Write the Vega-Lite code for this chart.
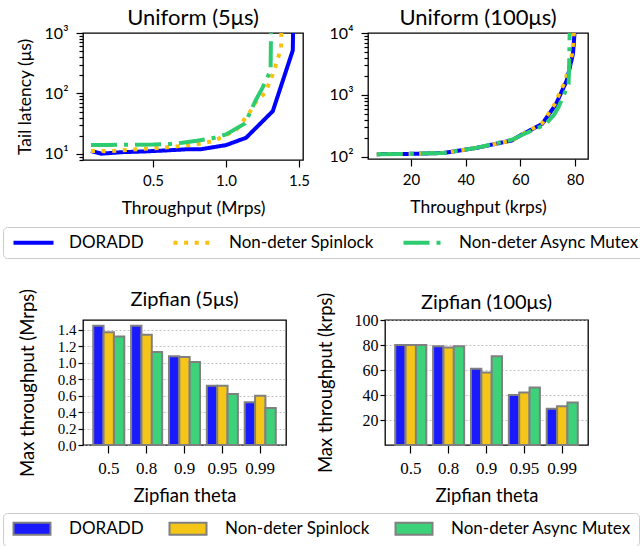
{
  "$schema": "https://vega.github.io/schema/vega-lite/v6.json",
  "padding": {"left": 2, "top": 6, "right": 0, "bottom": 0},
  "bounds": "flush",
  "spacing": 287,
  "datasets": {
    "u5": [
      {"sys": "DORADD", "x": 0.075, "y": 11.2}, {"sys": "DORADD", "x": 0.145, "y": 10.1}, {"sys": "DORADD", "x": 0.29, "y": 10.7},
      {"sys": "DORADD", "x": 0.44, "y": 11.0}, {"sys": "DORADD", "x": 0.58, "y": 11.4}, {"sys": "DORADD", "x": 0.72, "y": 11.9},
      {"sys": "DORADD", "x": 0.83, "y": 12.0}, {"sys": "DORADD", "x": 1.0, "y": 14.0}, {"sys": "DORADD", "x": 1.137, "y": 18.5},
      {"sys": "DORADD", "x": 1.32, "y": 51}, {"sys": "DORADD", "x": 1.457, "y": 516}, {"sys": "DORADD", "x": 1.462, "y": 3000},
      {"sys": "Non-deter Spinlock", "x": 0.075, "y": 11.2}, {"sys": "Non-deter Spinlock", "x": 0.2, "y": 11.1}, {"sys": "Non-deter Spinlock", "x": 0.35, "y": 11.8},
      {"sys": "Non-deter Spinlock", "x": 0.5, "y": 12.4}, {"sys": "Non-deter Spinlock", "x": 0.65, "y": 13.2}, {"sys": "Non-deter Spinlock", "x": 0.8, "y": 14.5},
      {"sys": "Non-deter Spinlock", "x": 0.92, "y": 16.5}, {"sys": "Non-deter Spinlock", "x": 1.07, "y": 25}, {"sys": "Non-deter Spinlock", "x": 1.16, "y": 48},
      {"sys": "Non-deter Spinlock", "x": 1.2, "y": 70}, {"sys": "Non-deter Spinlock", "x": 1.27, "y": 104}, {"sys": "Non-deter Spinlock", "x": 1.33, "y": 240},
      {"sys": "Non-deter Spinlock", "x": 1.355, "y": 380}, {"sys": "Non-deter Spinlock", "x": 1.377, "y": 570}, {"sys": "Non-deter Spinlock", "x": 1.38, "y": 3000},
      {"sys": "Non-deter Async Mutex", "x": 0.075, "y": 14.1}, {"sys": "Non-deter Async Mutex", "x": 0.2, "y": 14.1}, {"sys": "Non-deter Async Mutex", "x": 0.35, "y": 14.2},
      {"sys": "Non-deter Async Mutex", "x": 0.5, "y": 14.3}, {"sys": "Non-deter Async Mutex", "x": 0.62, "y": 14.6}, {"sys": "Non-deter Async Mutex", "x": 0.7, "y": 15.3},
      {"sys": "Non-deter Async Mutex", "x": 0.8, "y": 16.5}, {"sys": "Non-deter Async Mutex", "x": 0.92, "y": 18.5}, {"sys": "Non-deter Async Mutex", "x": 1.0, "y": 21},
      {"sys": "Non-deter Async Mutex", "x": 1.13, "y": 32}, {"sys": "Non-deter Async Mutex", "x": 1.2, "y": 75}, {"sys": "Non-deter Async Mutex", "x": 1.25, "y": 125},
      {"sys": "Non-deter Async Mutex", "x": 1.305, "y": 240}, {"sys": "Non-deter Async Mutex", "x": 1.31, "y": 3000}
    ],
    "u100": [
      {"sys": "DORADD", "x": 7.5, "y": 111}, {"sys": "DORADD", "x": 19, "y": 112}, {"sys": "DORADD", "x": 32, "y": 116},
      {"sys": "DORADD", "x": 44, "y": 140}, {"sys": "DORADD", "x": 57, "y": 185}, {"sys": "DORADD", "x": 61, "y": 235},
      {"sys": "DORADD", "x": 68, "y": 340}, {"sys": "DORADD", "x": 73, "y": 700}, {"sys": "DORADD", "x": 77, "y": 1700},
      {"sys": "DORADD", "x": 79.3, "y": 4600}, {"sys": "DORADD", "x": 80, "y": 12000},
      {"sys": "Non-deter Spinlock", "x": 7.5, "y": 111}, {"sys": "Non-deter Spinlock", "x": 19, "y": 112}, {"sys": "Non-deter Spinlock", "x": 32, "y": 116},
      {"sys": "Non-deter Spinlock", "x": 44, "y": 140}, {"sys": "Non-deter Spinlock", "x": 57, "y": 185}, {"sys": "Non-deter Spinlock", "x": 61, "y": 235},
      {"sys": "Non-deter Spinlock", "x": 68, "y": 350}, {"sys": "Non-deter Spinlock", "x": 72.5, "y": 700}, {"sys": "Non-deter Spinlock", "x": 76.5, "y": 1700},
      {"sys": "Non-deter Spinlock", "x": 79, "y": 4600}, {"sys": "Non-deter Spinlock", "x": 79.8, "y": 12000},
      {"sys": "Non-deter Async Mutex", "x": 7.5, "y": 111}, {"sys": "Non-deter Async Mutex", "x": 19, "y": 112}, {"sys": "Non-deter Async Mutex", "x": 32, "y": 116},
      {"sys": "Non-deter Async Mutex", "x": 44, "y": 140}, {"sys": "Non-deter Async Mutex", "x": 57, "y": 190}, {"sys": "Non-deter Async Mutex", "x": 60, "y": 220},
      {"sys": "Non-deter Async Mutex", "x": 69, "y": 330}, {"sys": "Non-deter Async Mutex", "x": 72.4, "y": 480}, {"sys": "Non-deter Async Mutex", "x": 74, "y": 640},
      {"sys": "Non-deter Async Mutex", "x": 77.7, "y": 1500}, {"sys": "Non-deter Async Mutex", "x": 77.9, "y": 3000}, {"sys": "Non-deter Async Mutex", "x": 78.1, "y": 12000}
    ],
    "b5": [
      {"theta": "0.5", "sys": "DORADD", "v": 1.45}, {"theta": "0.5", "sys": "Non-deter Spinlock", "v": 1.37}, {"theta": "0.5", "sys": "Non-deter Async Mutex", "v": 1.32},
      {"theta": "0.8", "sys": "DORADD", "v": 1.45}, {"theta": "0.8", "sys": "Non-deter Spinlock", "v": 1.34}, {"theta": "0.8", "sys": "Non-deter Async Mutex", "v": 1.13},
      {"theta": "0.9", "sys": "DORADD", "v": 1.08}, {"theta": "0.9", "sys": "Non-deter Spinlock", "v": 1.07}, {"theta": "0.9", "sys": "Non-deter Async Mutex", "v": 1.01},
      {"theta": "0.95", "sys": "DORADD", "v": 0.72}, {"theta": "0.95", "sys": "Non-deter Spinlock", "v": 0.72}, {"theta": "0.95", "sys": "Non-deter Async Mutex", "v": 0.62},
      {"theta": "0.99", "sys": "DORADD", "v": 0.52}, {"theta": "0.99", "sys": "Non-deter Spinlock", "v": 0.60}, {"theta": "0.99", "sys": "Non-deter Async Mutex", "v": 0.45}
    ],
    "b100": [
      {"theta": "0.5", "sys": "DORADD", "v": 80}, {"theta": "0.5", "sys": "Non-deter Spinlock", "v": 80}, {"theta": "0.5", "sys": "Non-deter Async Mutex", "v": 80},
      {"theta": "0.8", "sys": "DORADD", "v": 79}, {"theta": "0.8", "sys": "Non-deter Spinlock", "v": 78}, {"theta": "0.8", "sys": "Non-deter Async Mutex", "v": 79},
      {"theta": "0.9", "sys": "DORADD", "v": 61}, {"theta": "0.9", "sys": "Non-deter Spinlock", "v": 58}, {"theta": "0.9", "sys": "Non-deter Async Mutex", "v": 71},
      {"theta": "0.95", "sys": "DORADD", "v": 40}, {"theta": "0.95", "sys": "Non-deter Spinlock", "v": 42}, {"theta": "0.95", "sys": "Non-deter Async Mutex", "v": 46},
      {"theta": "0.99", "sys": "DORADD", "v": 29}, {"theta": "0.99", "sys": "Non-deter Spinlock", "v": 31}, {"theta": "0.99", "sys": "Non-deter Async Mutex", "v": 34}
    ]
  },
  "vconcat": [
    {
      "hconcat": [
        {
          "width": 220, "height": 127,
          "title": {"text": "Uniform (5μs)", "fontSize": 22, "offset": -5, "frame": "group"},
          "data": {"name": "u5"},
          "layer": [
            {
              "mark": {"type": "line", "strokeWidth": 4, "clip": true},
              "encoding": {
                "x": {"field": "x", "type": "quantitative", "scale": {"domain": [0.02, 1.527], "nice": false, "zero": false}, "axis": {"values": [0.5, 1.0, 1.5], "format": ".1f", "title": "Throughput (Mrps)", "tickSize": 7, "labelPadding": 6, "titlePadding": 11}},
                "y": {"field": "y", "type": "quantitative", "scale": {"type": "log", "domain": [7.94, 1000], "nice": false}, "axis": {"values": [10, 100, 1000], "labelExpr": "'10' + (datum.value == 10 ? '¹' : datum.value == 100 ? '²' : datum.value == 1000 ? '³' : '⁴')", "title": "Tail latency (μs)", "tickSize": 7, "labelPadding": 8, "labelFontSize": 16, "titlePadding": 10}},
                "stroke": {"field": "sys", "type": "nominal", "scale": {"domain": ["DORADD", "Non-deter Spinlock", "Non-deter Async Mutex"], "range": ["#0000ff", "#f9c00c", "#2ecc71"]}, "legend": {"orient": "none", "legendX": -80, "legendY": 194, "direction": "horizontal", "columns": 3, "title": null, "symbolType": "M-1,0H7", "symbolSize": 100, "symbolStrokeWidth": 4, "labelFontSize": 17, "labelOffset": 42, "columnPadding": 21, "strokeColor": "#cccccc", "cornerRadius": 4, "padding": 7, "labelLimit": 400}},
                "strokeDash": {"field": "sys", "type": "nominal", "scale": {"domain": ["DORADD", "Non-deter Spinlock", "Non-deter Async Mutex"], "range": [[1, 0], [4, 6.6], [26, 7, 4, 7]]}, "legend": {"orient": "none", "legendX": -80, "legendY": 194, "direction": "horizontal", "columns": 3, "title": null, "symbolType": "M-1,0H7", "symbolSize": 100, "symbolStrokeWidth": 4, "labelFontSize": 17, "labelOffset": 42, "columnPadding": 21, "strokeColor": "#cccccc", "cornerRadius": 4, "padding": 7, "labelLimit": 400}}
              }
            },
            {
              "mark": {"type": "point", "opacity": 0, "clip": true},
              "encoding": {
                "x": {"field": "x", "type": "quantitative"},
                "y": {"field": "y", "type": "quantitative", "axis": {"orient": "left", "values": [8, 9, 20, 30, 40, 50, 60, 70, 80, 90, 200, 300, 400, 500, 600, 700, 800, 900], "labels": false, "tickSize": 4, "title": null, "domain": false, "grid": false}}
              }
            }
          ],
          "resolve": {"axis": {"y": "independent"}}
        },
        {
          "width": 220, "height": 126,
          "title": {"text": "Uniform (100μs)", "fontSize": 22, "offset": -5, "frame": "group"},
          "data": {"name": "u100"},
          "layer": [
            {
              "mark": {"type": "line", "strokeWidth": 4, "clip": true},
              "encoding": {
                "x": {"field": "x", "type": "quantitative", "scale": {"domain": [4.28, 84.8], "nice": false, "zero": false}, "axis": {"values": [20, 40, 60, 80], "title": "Throughput (krps)", "tickSize": 7, "labelPadding": 6, "titlePadding": 11}},
                "y": {"field": "y", "type": "quantitative", "scale": {"type": "log", "domain": [92.7, 10000], "nice": false}, "axis": {"values": [100, 1000, 10000], "labelExpr": "'10' + (datum.value == 10 ? '¹' : datum.value == 100 ? '²' : datum.value == 1000 ? '³' : '⁴')", "title": null, "tickSize": 7, "labelPadding": 8, "labelFontSize": 16}},
                "stroke": {"field": "sys", "type": "nominal", "scale": {"domain": ["DORADD", "Non-deter Spinlock", "Non-deter Async Mutex"], "range": ["#0000ff", "#f9c00c", "#2ecc71"]}, "legend": {"orient": "none", "legendX": -80, "legendY": 194, "direction": "horizontal", "columns": 3, "title": null, "symbolType": "M-1,0H7", "symbolSize": 100, "symbolStrokeWidth": 4, "labelFontSize": 17, "labelOffset": 42, "columnPadding": 21, "strokeColor": "#cccccc", "cornerRadius": 4, "padding": 7, "labelLimit": 400}},
                "strokeDash": {"field": "sys", "type": "nominal", "scale": {"domain": ["DORADD", "Non-deter Spinlock", "Non-deter Async Mutex"], "range": [[1, 0], [4, 6.6], [26, 7, 4, 7]]}, "legend": {"orient": "none", "legendX": -80, "legendY": 194, "direction": "horizontal", "columns": 3, "title": null, "symbolType": "M-1,0H7", "symbolSize": 100, "symbolStrokeWidth": 4, "labelFontSize": 17, "labelOffset": 42, "columnPadding": 21, "strokeColor": "#cccccc", "cornerRadius": 4, "padding": 7, "labelLimit": 400}}
              }
            },
            {
              "mark": {"type": "point", "opacity": 0, "clip": true},
              "encoding": {
                "x": {"field": "x", "type": "quantitative"},
                "y": {"field": "y", "type": "quantitative", "axis": {"orient": "left", "values": [200, 300, 400, 500, 600, 700, 800, 900, 2000, 3000, 4000, 5000, 6000, 7000, 8000, 9000], "labels": false, "tickSize": 4, "title": null, "domain": false, "grid": false}}
              }
            }
          ],
          "resolve": {"axis": {"y": "independent"}}
        }
      ],
      "spacing": 65,
      "bounds": "flush"
    },
    {
      "hconcat": [
        {
          "width": 203, "height": 125,
          "title": {"text": "Zipfian (5μs)", "fontSize": 20, "offset": -21, "frame": "group"},
          "data": {"name": "b5"},
          "mark": {"type": "bar", "stroke": "#808080", "strokeWidth": 2},
          "encoding": {
            "x": {"field": "theta", "type": "nominal", "sort": ["0.5", "0.8", "0.9", "0.95", "0.99"], "scale": {"paddingInner": 0.18, "paddingOuter": 0.27}, "axis": {"labelAngle": 0, "title": "Zipfian theta", "labelFont": "Liberation Serif", "labelFontSize": 17, "tickSize": 8, "labelPadding": 7, "titlePadding": 10, "titleFontSize": 18.5}},
            "xOffset": {"field": "sys", "type": "nominal", "sort": ["DORADD", "Non-deter Spinlock", "Non-deter Async Mutex"]},
            "y": {"field": "v", "type": "quantitative", "scale": {"domain": [0, 1.52], "nice": false}, "axis": {"values": [0, 0.2, 0.4, 0.6, 0.8, 1.0, 1.2, 1.4], "format": ".1f", "labelOverlap": false, "title": "Max throughput (Mrps)", "grid": true, "gridDash": [2, 2], "gridColor": "#b0b0b0", "gridWidth": 0.8, "labelFont": "Liberation Serif", "labelFontSize": 15, "tickSize": 5, "labelPadding": 2, "titlePadding": 20, "titleFontSize": 18.5}},
            "fill": {"field": "sys", "type": "nominal", "sort": ["DORADD", "Non-deter Spinlock", "Non-deter Async Mutex"], "scale": {"range": ["#1a1aff", "#f5c518", "#3dd17a"]}, "legend": {"orient": "none", "legendX": -80, "legendY": 480, "direction": "horizontal", "columns": 3, "title": null, "symbolType": "M-1,-1.2H6.4V1.2H-1Z", "symbolSize": 100, "symbolStrokeColor": "#808080", "symbolStrokeWidth": 2, "symbolOpacity": 1, "labelFontSize": 17, "labelOffset": 42, "columnPadding": 21, "strokeColor": "#cccccc", "cornerRadius": 4, "padding": 7, "labelLimit": 400}}
          }
        },
        {
          "width": 203, "height": 125,
          "title": {"text": "Zipfian (100μs)", "fontSize": 20, "offset": -21, "frame": "group"},
          "data": {"name": "b100"},
          "mark": {"type": "bar", "stroke": "#808080", "strokeWidth": 2},
          "encoding": {
            "x": {"field": "theta", "type": "nominal", "sort": ["0.5", "0.8", "0.9", "0.95", "0.99"], "scale": {"paddingInner": 0.18, "paddingOuter": 0.27}, "axis": {"labelAngle": 0, "title": "Zipfian theta", "labelFont": "Liberation Serif", "labelFontSize": 17, "tickSize": 8, "labelPadding": 7, "titlePadding": 10, "titleFontSize": 18.5}},
            "xOffset": {"field": "sys", "type": "nominal", "sort": ["DORADD", "Non-deter Spinlock", "Non-deter Async Mutex"]},
            "y": {"field": "v", "type": "quantitative", "scale": {"domain": [0, 100], "nice": false}, "axis": {"values": [20, 40, 60, 80, 100], "labelOverlap": false, "title": "Max throughput (krps)", "grid": true, "gridDash": [2, 2], "gridColor": "#b0b0b0", "gridWidth": 0.8, "labelFont": "Liberation Serif", "labelFontSize": 16, "tickSize": 5, "labelPadding": 2, "titlePadding": 19, "titleFontSize": 18.5}},
            "fill": {"field": "sys", "type": "nominal", "sort": ["DORADD", "Non-deter Spinlock", "Non-deter Async Mutex"], "scale": {"range": ["#1a1aff", "#f5c518", "#3dd17a"]}, "legend": {"orient": "none", "legendX": -80, "legendY": 480, "direction": "horizontal", "columns": 3, "title": null, "symbolType": "M-1,-1.2H6.4V1.2H-1Z", "symbolSize": 100, "symbolStrokeColor": "#808080", "symbolStrokeWidth": 2, "symbolOpacity": 1, "labelFontSize": 17, "labelOffset": 42, "columnPadding": 21, "strokeColor": "#cccccc", "cornerRadius": 4, "padding": 7, "labelLimit": 400}}
          }
        }
      ],
      "spacing": 99,
      "bounds": "flush"
    }
  ],
  "config": {
    "font": "Lato",
    "view": {"stroke": "black", "strokeWidth": 1.3},
    "axis": {"domain": false, "grid": false, "tickColor": "black", "tickSize": 5, "tickWidth": 1.2, "labelColor": "black", "titleColor": "black", "labelFontSize": 15, "titleFontSize": 17.5, "titleFontWeight": "normal", "labelPadding": 3, "titlePadding": 6},
    "title": {"fontWeight": "normal", "color": "black"},
    "legend": {"labelColor": "black"}
  }
}
